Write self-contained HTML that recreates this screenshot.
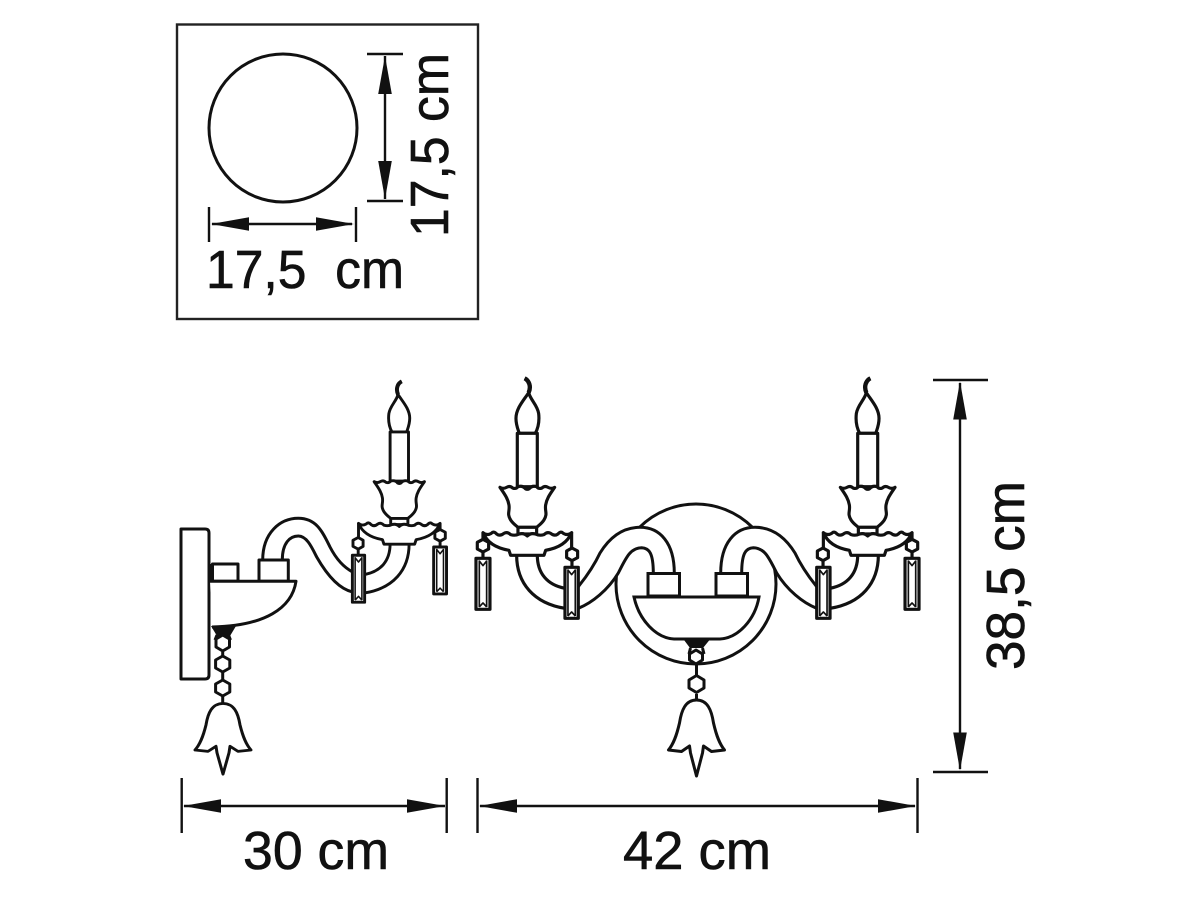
<!DOCTYPE html>
<html><head><meta charset="utf-8"><title>Wall lamp dimensions</title>
<style>
html,body{margin:0;padding:0;background:#fff;width:1200px;height:900px;overflow:hidden}
svg{display:block}
text{font-family:"Liberation Sans",sans-serif;font-size:54px;fill:#111;stroke:#111;stroke-width:.6}
</style></head><body>
<svg width="1200" height="900" viewBox="0 0 1200 900" xmlns="http://www.w3.org/2000/svg">
<defs>
<g id="head" fill="none" stroke="#111" stroke-width="9.5" stroke-linejoin="round">
  <path fill="#fff" stroke="none" d="M32 550C32 640 -20 700 -113 715V655C-60 645 -30 610 -30 550Z"/>
  <path d="M32 555C32 640 -20 700 -113 715M-30 555C-30 610 -60 645 -113 655"/>
  <path fill="#fff" d="M8 25C-6 32 -14 50 -4 68C10 90 34 115 34 145C34 165 28 178 24 190H-24C-32 175 -37 155 -34 130C-30 105 -10 90 -4 68"/>
  <path d="M8 25C-6 32 -12 50 -4 68" stroke-width="13"/>
  <rect x="-30" y="190" width="60" height="160" fill="#fff"/>
  <path fill="#fff" d="M-82 352Q-72 358 -62 352Q-52 346 -44 354Q-34 358 -28 350Q-14 346 -6 356Q0 360 6 356Q14 346 28 350Q34 358 44 354Q52 346 62 352Q72 358 82 352C70 370 58 385 55 405C52 425 62 430 50 450C42 462 32 468 28 472H-28C-32 468 -42 462 -50 450C-62 430 -52 425 -55 405C-58 385 -70 370 -82 352Z"/>
  <rect x="-28" y="472" width="56" height="20" fill="#fff"/>
  <path fill="#fff" d="M-133 488Q-122 498 -108 490Q-100 482 -92 492Q-82 500 -70 490Q-60 484 -50 494Q-36 498 -24 492Q-10 488 0 498Q10 488 24 492Q36 498 50 494Q60 484 70 490Q82 500 92 492Q100 482 108 490Q122 498 133 488C120 520 90 535 55 541L50 556H-50L-55 541C-90 535 -120 520 -133 488Z"/>
  <path d="M-133 488V536M-134 570V592M133 488V510M133 544V565"/>
  <polygon fill="#fff" points="-134,534 -118,543 -118,563 -134,572 -151,563 -151,543"/>
  <polygon fill="#fff" points="133,508 150,517 150,537 133,546 116,537 116,517"/>
  <rect x="-153" y="592" width="40" height="153" fill="#fff"/>
  <rect x="112" y="565" width="42" height="153" fill="#fff"/>
  <path stroke-width="5" d="M-144 598V738M-122 598V738M-144 600L-133 614L-122 600M-144 738L-133 726L-122 738M122 571V711M144 571V711M122 573L133 587L144 573M122 711L133 699L144 711"/>
</g>
<g id="bell" fill="#fff" stroke="#111" stroke-width="3" stroke-linejoin="round">
  <path d="M0 0C-11 0 -15 10 -17 23C-20 36 -23 44 -28 50L-15 51.5L-7 46L-6 53L0 76L6 53L7 46L15 51.5L28 50C23 44 20 36 17 23C15 10 11 0 0 0Z"/>
</g>
<polygon id="ah" fill="#111" points="0,0 38,-6.8 38,6.800"/>
</defs>

<!-- top plan box -->
<rect x="177" y="24.500" width="301" height="294.500" fill="#fff" stroke="#222" stroke-width="2.400"/>
<circle cx="283" cy="128" r="74" fill="#fff" stroke="#111" stroke-width="3"/>
<g stroke="#111" stroke-width="2.400" fill="none">
  <path d="M367 54H403M367 201H403M385 56V199"/>
  <path d="M209 207V242M356 207V242M212 224H352"/>
</g>
<use href="#ah" transform="translate(385,56) rotate(90)"/>
<use href="#ah" transform="translate(385,199) rotate(-90)"/>
<use href="#ah" transform="translate(211,224)"/>
<use href="#ah" transform="translate(354,224) rotate(180)"/>
<text x="206" y="288" textLength="198" lengthAdjust="spacingAndGlyphs" xml:space="preserve">17,5  cm</text>
<text transform="translate(448,237) rotate(-90)" x="0" y="0" textLength="184" lengthAdjust="spacingAndGlyphs">17,5 cm</text>

<!-- wall lamp side view -->
<g fill="none" stroke="#111" stroke-width="3" stroke-linejoin="round">
  <path fill="#fff" d="M181 679V529H205Q209 529 209 533V675Q209 679 205 679Z"/>
  <path d="M210.500 564V581" stroke-width="4"/>
  <rect x="212.500" y="564" width="25.500" height="17.300" fill="#fff"/>
  <path fill="#fff" stroke="none" d="M262.700 560C262.700 533 280 518.300 298.300 518.300C317 518.300 323 533 330 547C336.700 560 345 568 352.700 572V592C339 589 327 575 316.700 557C311.700 547 306.700 536 298.300 536C290 536 282.300 543 282.300 560Z"/>
  <path d="M262.700 560C262.700 533 280 518.300 298.300 518.300C317 518.300 323 533 330 547C336.700 560 345 568 352.700 572M282.300 560C282.300 543 290 536 298.300 536C306.700 536 311.700 547 316.700 557C327 575 339 589 352.700 592"/>
  <rect x="259" y="560" width="29.300" height="21.300" fill="#fff"/>
  <path fill="#fff" d="M210 581.300H296C292 608 265 626 212 627"/>
</g>
<polygon fill="#111" points="211,626 236,626 230,636 217,636"/>
<g fill="#fff" stroke="#111" stroke-width="3" stroke-linejoin="round">
  <path d="M222.700 652V680M222.700 696V704" fill="none"/>
  <path d="M217 635L215 640M228.500 635L230.500 640" fill="none"/>
  <polygon points="222.700,635 229.500,639 229.500,647 222.700,651 216,647 216,639"/>
  <polygon points="222.700,656 229.800,660 229.800,668 222.700,672 215.600,668 215.600,660"/>
  <polygon points="222.700,680 229.800,684 229.800,692 222.700,696 215.600,692 215.600,684"/>
</g>
<use href="#bell" transform="translate(223,703.500) scale(1,.93)"/>
<use href="#head" transform="translate(399.300,373.700) scale(.3067)"/>

<!-- double lamp front view -->
<circle cx="696" cy="584" r="80" fill="#fff" stroke="#111" stroke-width="3"/>
<g fill="none" stroke="#111" stroke-width="3">
  <path fill="#fff" stroke="none" d="M720.700 573C720.700 543 735 527.300 755 527.300C775 527.300 787 540 795 553C805 570 813 583 816.700 586.700V608.300C803 603 787 590 776.700 573C769 558 765 548 753.300 547.700C746 548 741.700 553 741.700 573Z"/>
  <path d="M720.700 573C720.700 543 735 527.300 755 527.300C775 527.300 787 540 795 553C803 570 813 582 816.700 586.700M741.700 573C741.700 553 746 548 753.300 547.700C765 548 769 558 776.700 573C787 590 803 603 816.700 608.300"/>
</g>
<g fill="none" stroke="#111" stroke-width="3">
  <path fill="#fff" stroke="none" d="M674.300 573C674.300 543 660 527.300 640 527.300C620 527.300 608 540 600 553C590 570 582 583 578.300 586.700V608.300C592 603 608 590 618.300 573C626 558 630 548 641.700 547.700C649 548 653.300 553 653.300 573Z"/>
  <path d="M674.300 573C674.300 543 660 527.300 640 527.300C620 527.300 608 540 600 553C592 570 582 582 578.300 586.700M653.300 573C653.300 553 649 548 641.700 547.700C630 548 626 558 618.300 573C608 590 592 603 578.300 608.300"/>
  <rect x="648" y="573.500" width="31.500" height="22.500" fill="#fff"/>
  <rect x="716" y="573.500" width="31.500" height="22.500" fill="#fff"/>
  <path fill="#fff" d="M634 597H759C755 620 738 638 720 639H674C656 638 639 620 634 597Z"/>
</g>
<polygon fill="#111" points="684,640 709.500,640 703,648 690,648"/>
<g fill="#fff" stroke="#111" stroke-width="3" stroke-linejoin="round">
  <path d="M696.500 664V680M696.500 694V700" fill="none"/>
  <path d="M690.500 648L689 654M702.500 648L704 654" fill="none"/>
  <polygon points="696,650 702.500,654 702.500,660 696,664 689.500,660 689.500,654"/>
  <polygon points="696.500,675.500 704,680 704,688 696.500,692.500 689,688 689,680"/>
</g>
<use href="#bell" transform="translate(696.500,700)"/>
<use href="#head" transform="translate(867.700,370) scale(.3333)"/>
<use href="#head" transform="translate(527.300,370) scale(-.3333,.3333)"/>

<!-- bottom dimensions -->
<g stroke="#111" stroke-width="2.400" fill="none">
  <path d="M181.700 778V833M446.700 778V833M184 806H445"/>
  <path d="M477.500 778V833M917.500 778V833M480 806H915"/>
  <path d="M933 380H988M933 772H988M960 383V769"/>
</g>
<use href="#ah" transform="translate(183,806)"/>
<use href="#ah" transform="translate(445,806) rotate(180)"/>
<use href="#ah" transform="translate(479,806)"/>
<use href="#ah" transform="translate(916,806) rotate(180)"/>
<use href="#ah" transform="translate(960,381.500) rotate(90)"/>
<use href="#ah" transform="translate(960,770.500) rotate(-90)"/>
<text x="243" y="869" textLength="146" lengthAdjust="spacingAndGlyphs">30 cm</text>
<text x="623" y="869" textLength="148" lengthAdjust="spacingAndGlyphs">42 cm</text>
<text transform="translate(1024,670) rotate(-90)" x="0" y="0" textLength="189" lengthAdjust="spacingAndGlyphs">38,5 cm</text>
</svg>
</body></html>
